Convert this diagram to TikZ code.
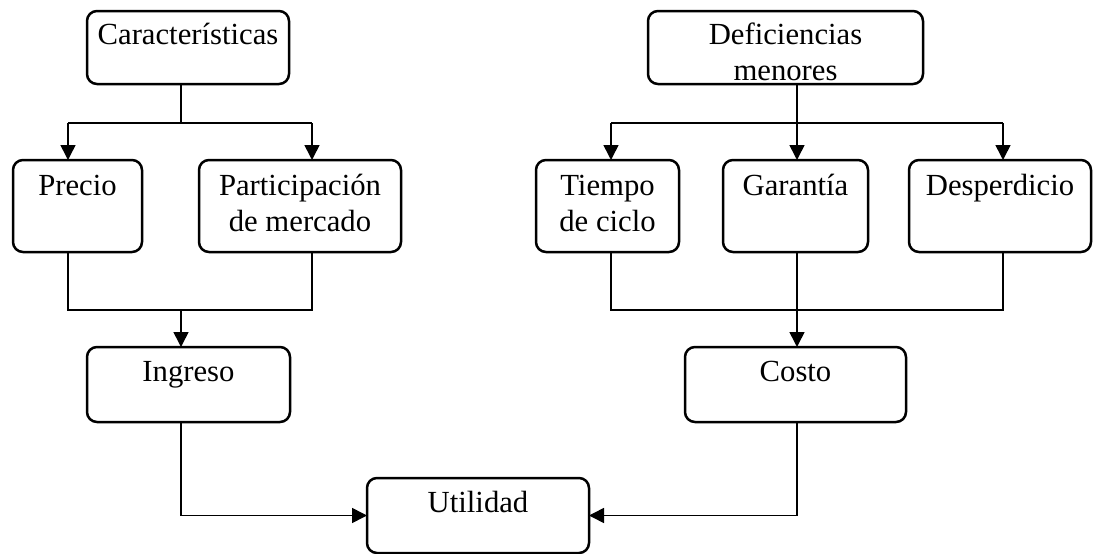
\documentclass[tikz,border=0pt]{standalone}
\usepackage{fontspec}
\setmainfont{Liberation Serif}
\usetikzlibrary{arrows.meta}
\begin{document}
\begin{tikzpicture}[x=1pt,y=-1pt,
  box/.style={draw, line width=2.5pt, rounded corners=10pt, inner sep=0pt, outer sep=0pt},
  lbl/.style={anchor=base, inner sep=0pt, font=\fontsize{30.7}{35}\selectfont},
  conn/.style={line width=1.6pt},
  arr/.style={conn, -{Triangle[length=15pt,width=15pt]}}]
\useasboundingbox (0,0) rectangle (1093,554);
% boxes
\node[box, minimum width=202, minimum height=73] (carac) at (188,47.5) {};
\node[box, minimum width=275, minimum height=73] (defic) at (785.5,47.5) {};
\node[box, minimum width=129, minimum height=92] (precio) at (77.5,206) {};
\node[box, minimum width=202, minimum height=92] (partic) at (300,206) {};
\node[box, minimum width=143, minimum height=92] (tiempo) at (607.5,206) {};
\node[box, minimum width=145, minimum height=92] (garan) at (795.5,206) {};
\node[box, minimum width=182, minimum height=92] (desp) at (1000,206) {};
\node[box, minimum width=203, minimum height=75] (ingreso) at (188.5,384.5) {};
\node[box, minimum width=221, minimum height=75] (costo) at (795.5,384.5) {};
\node[box, minimum width=222, minimum height=75] (util) at (478,515.5) {};
% labels
\node[lbl] (tcarac) at (188,44) {Características};
\node[lbl] (tdefic1) at (785.5,44) {Deficiencias};
\node[lbl] (tdefic2) at (785.5,80) {menores};
\node[lbl] (tprecio) at (77.5,195) {Precio};
\node[lbl] (tpartic1) at (300,195) {Participación};
\node[lbl] (tpartic2) at (300,231) {de mercado};
\node[lbl] (ttiempo1) at (607.5,195) {Tiempo};
\node[lbl] (ttiempo2) at (607.5,231) {de ciclo};
\node[lbl] (tgaran) at (795.5,195) {Garantía};
\node[lbl] (tdesp) at (1000,195) {Desperdicio};
\node[lbl] (tingreso) at (188.5,381) {Ingreso};
\node[lbl] (tcosto) at (795.5,381) {Costo};
\node[lbl] (tutil) at (478,512) {Utilidad};
% junction coordinates
\coordinate (jL1) at (181,123);
\coordinate (aP) at (68,123);
\coordinate (aM) at (312,123);
\coordinate (jR1) at (797,123);
\coordinate (aT) at (611,123);
\coordinate (aD) at (1003,123);
\coordinate (jL2) at (181,310);
\coordinate (jR2) at (797,310);
% top-left tree
\draw[conn] (carac.south -| jL1) -- (jL1);
\draw[conn] (aP) -- (aM);
\draw[arr] (aP) -- (aP |- precio.north);
\draw[arr] (aM) -- (aM |- partic.north);
% top-right tree
\draw[arr] (defic.south -| jR1) -- (jR1 |- garan.north);
\draw[conn] (aT) -- (aD);
\draw[arr] (aT) -- (aT |- tiempo.north);
\draw[arr] (aD) -- (aD |- desp.north);
% middle left
\draw[conn] (precio.south -| aP) |- (jL2) -| (partic.south -| aM);
\draw[arr] (jL2) -- (jL2 |- ingreso.north);
% middle right
\draw[conn] (tiempo.south -| aT) |- (jR2) -| (desp.south -| aD);
\draw[arr] (garan.south -| jR2) -- (jR2 |- costo.north);
% bottom
\draw[arr] (ingreso.south -| jL1) |- (util.west);
\draw[arr] (costo.south -| jR1) |- (util.east);
\end{tikzpicture}
\end{document}
